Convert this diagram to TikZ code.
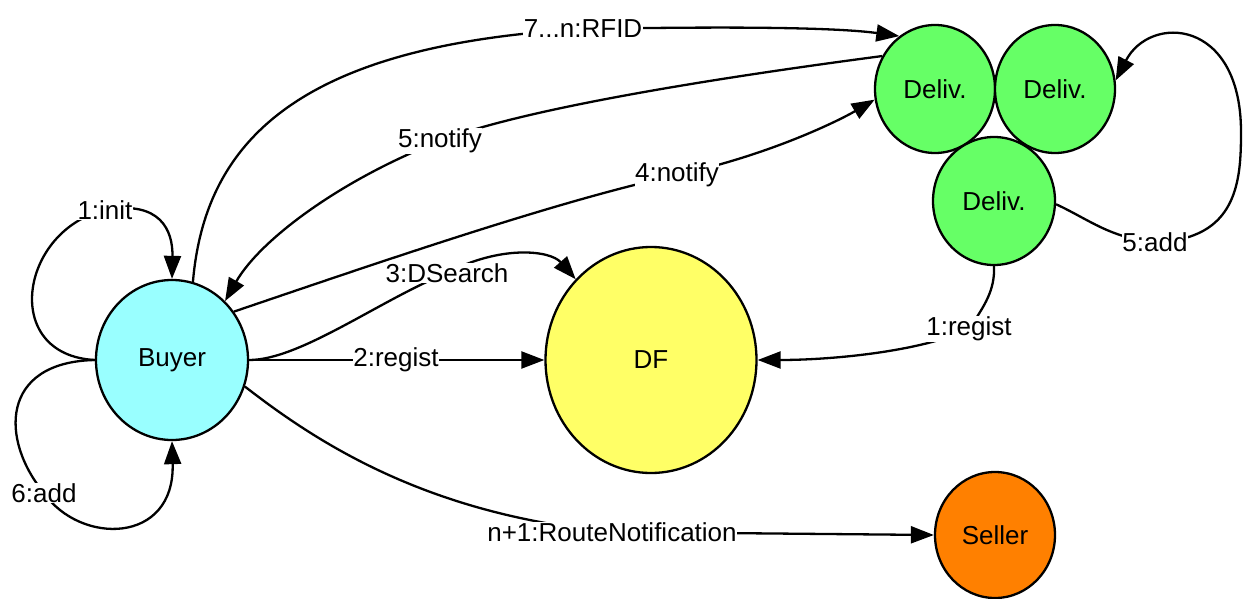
\documentclass[tikz,border=0pt]{standalone}
\usepackage{fontspec}
\setmainfont{Liberation Sans}
\usetikzlibrary{shapes.geometric,arrows.meta}
\definecolor{buyercol}{RGB}{153,255,255}
\definecolor{dfcol}{RGB}{255,255,102}
\definecolor{delivcol}{RGB}{102,255,102}
\definecolor{sellercol}{RGB}{255,128,0}
\begin{document}
\begin{tikzpicture}[x=1pt,y=-1pt,
  agent/.style={ellipse, draw, line width=2.3pt, inner sep=0pt,
    font=\fontsize{26}{30}\selectfont},
  msg/.style={line width=2.3pt, -{Triangle[length=23pt,width=17pt]}},
  lbl/.style={fill=white, inner sep=0.5pt, font=\fontsize{26}{30}\selectfont}]
\useasboundingbox (0,0) rectangle (1244,599);

% agents
\node[agent, fill=buyercol, minimum width=152pt, minimum height=160pt] (buyer) at (172,360) {Buyer};
\node[agent, fill=dfcol, minimum width=211pt, minimum height=226pt] (df) at (651,360) {DF};
\node[agent, fill=delivcol, minimum width=120pt, minimum height=128pt] (d1) at (935,89) {Deliv.};
\node[agent, fill=delivcol, minimum width=120pt, minimum height=128pt] (d2) at (1055,89) {Deliv.};
\node[agent, fill=delivcol, minimum width=122pt, minimum height=128pt] (d3) at (994,201) {Deliv.};
\node[agent, fill=sellercol, minimum width=120pt, minimum height=126pt] (seller) at (995,535) {Seller};

% buyer self loops
\draw[msg] (buyer.west) .. controls (0,355) and (20,230) .. (105,210) node[lbl] (linit) {1:init}
  .. controls (160,200) and (173,230) .. (buyer.north);
\draw[msg] (buyer.west) .. controls (0,362) and (0,440) .. (44,493) node[lbl] (ladd) {6:add}
  .. controls (80,545) and (175,545) .. (buyer.south);

% buyer -> DF
\draw[msg] (buyer.east) .. controls (300,360) and (380,300) .. (447,273) node[lbl] (lsearch) {3:DSearch}
  .. controls (500,245) and (550,250) .. (df.133);
\draw[msg] (buyer.east) -- (396,360) node[lbl] (lreg) {2:regist} -- (df.west);

% buyer <-> first deliverer
\draw[msg] (buyer.38) .. controls (380,262) and (560,200) .. (677,175) node[lbl] (lnot4) {4:notify}
  .. controls (770,155) and (840,120) .. (d1.190);
\draw[msg] (d1.148) .. controls (700,80) and (520,110) .. (440,141) node[lbl] (lnot5) {5:notify}
  .. controls (340,180) and (260,240) .. (buyer.48);
\draw[msg] (buyer.75) .. controls (205,140) and (300,45) .. (583,29) node[lbl] (lrfid) {7...n:RFID}
  .. controls (750,26) and (840,28) .. (d1.124);

% deliverers
\draw[msg] (d3.south) .. controls (995,290) and (985,305) .. (969,329) node[lbl] (lreg1) {1:regist}
  .. controls (920,352) and (830,360) .. (df.east);
\draw[msg] (d3.-3) .. controls (1090,220) and (1110,238) .. (1155,242) node[lbl] (ladd5) {5:add}
  .. controls (1238,240) and (1241,180) .. (1241,132)
  .. controls (1241,18) and (1150,14) .. (d2.8);

% buyer -> seller
\draw[msg] (buyer.-20) .. controls (320,445) and (430,515) .. (612,532) node[lbl] (lroute) {n+1:RouteNotification}
  -- (seller.west);
\end{tikzpicture}
\end{document}
